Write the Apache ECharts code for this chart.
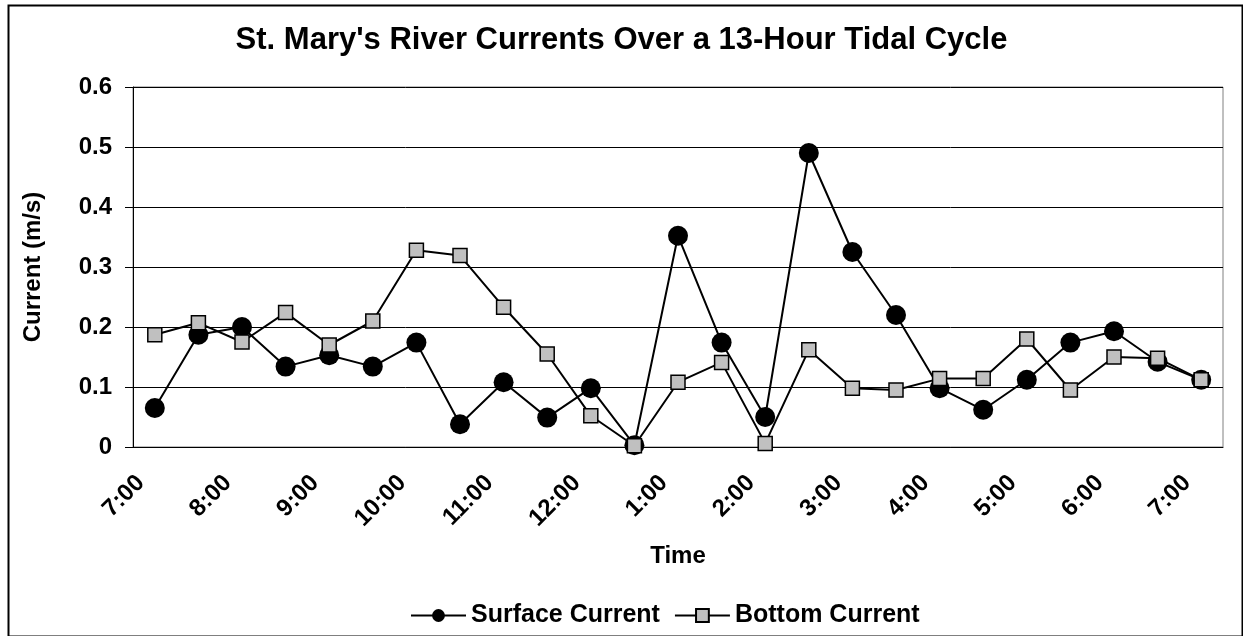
<!DOCTYPE html>
<html>
<head>
<meta charset="utf-8">
<script src="https://cdn.jsdelivr.net/npm/echarts@6/dist/echarts.min.js"></script>
<style>
  html, body { margin: 0; padding: 0; background: #fff; }
  #chart { width: 1243px; height: 636px; }
</style>
</head>
<body>
<div id="chart"></div>
<script>
// half-hour readings, 7:00 to 7:00
var times = ['7:00', '7:30', '8:00', '8:30', '9:00', '9:30', '10:00', '10:30', '11:00', '11:30',
  '12:00', '12:30', '1:00', '1:30', '2:00', '2:30', '3:00', '3:30', '4:00', '4:30',
  '5:00', '5:30', '6:00', '6:30', '7:00'];

var surfaceCurrent = [0.065, 0.187, 0.200, 0.134, 0.153, 0.134, 0.174, 0.038, 0.108, 0.049,
  0.098, 0.003, 0.352, 0.174, 0.050, 0.490, 0.325, 0.220, 0.098, 0.062,
  0.112, 0.174, 0.193, 0.142, 0.112];

var bottomCurrent = [0.187, 0.207, 0.175, 0.224, 0.170, 0.210, 0.328, 0.319, 0.233, 0.155,
  0.052, 0.002, 0.108, 0.141, 0.006, 0.162, 0.098, 0.095, 0.114, 0.114,
  0.180, 0.095, 0.150, 0.148, 0.112];

var FONT = 'Arial, "Liberation Sans", sans-serif';

var chart = echarts.init(document.getElementById('chart'));

var option = {
  animation: false,
  backgroundColor: '#fff',
  title: {
    text: "St. Mary's River Currents Over a 13-Hour Tidal Cycle",
    left: 'center',
    top: 20,
    textStyle: { fontFamily: FONT, fontWeight: 'bold', fontSize: 31, color: '#000' }
  },
  legend: {
    left: 405,
    top: 598,
    itemWidth: 55,
    itemHeight: 16,
    itemGap: 14,
    textStyle: { fontFamily: FONT, fontWeight: 'bold', fontSize: 25, color: '#000' },
    data: ['Surface Current', 'Bottom Current']
  },
  grid: {
    left: 133,
    right: 20,
    top: 87,
    bottom: 189,
    show: true,
    borderColor: '#808080',
    borderWidth: 1,
    containLabel: false
  },
  xAxis: {
    type: 'category',
    data: times,
    boundaryGap: true,
    name: 'Time',
    nameLocation: 'middle',
    nameGap: 97,
    nameTextStyle: { fontFamily: FONT, fontWeight: 'bold', fontSize: 24, color: '#000' },
    axisLine: { lineStyle: { color: '#000', width: 1 } },
    axisTick: { interval: 0, length: 7, lineStyle: { color: '#000' } },
    axisLabel: {
      interval: 1,
      rotate: 45,
      margin: 18,
      padding: [0, 20, 0, 0],
      fontFamily: FONT,
      fontWeight: 'bold',
      fontSize: 24,
      color: '#000'
    },
    splitLine: { show: false }
  },
  yAxis: {
    type: 'value',
    min: 0,
    max: 0.6,
    interval: 0.1,
    name: 'Current (m/s)',
    nameLocation: 'middle',
    nameGap: 88,
    nameTextStyle: { fontFamily: FONT, fontWeight: 'bold', fontSize: 24, color: '#000' },
    axisLine: { show: true, lineStyle: { color: '#000', width: 1 } },
    axisTick: { show: true, length: 8, lineStyle: { color: '#000' } },
    axisLabel: {
      margin: 21,
      fontFamily: FONT,
      fontWeight: 'bold',
      fontSize: 24,
      color: '#000',
      formatter: function (v) { return v === 0 ? '0' : v.toFixed(1); }
    },
    splitLine: { lineStyle: { color: '#000', width: 1 } }
  },
  series: [
    {
      name: 'Surface Current',
      type: 'line',
      data: surfaceCurrent,
      symbol: 'circle',
      symbolSize: 20,
      z: 2,
      lineStyle: { color: '#000', width: 2 },
      itemStyle: { color: '#000', borderColor: '#000', borderWidth: 0 }
    },
    {
      name: 'Bottom Current',
      type: 'line',
      data: bottomCurrent,
      symbol: 'rect',
      symbolSize: 14,
      z: 3,
      lineStyle: { color: '#000', width: 2 },
      itemStyle: { color: '#c0c0c0', borderColor: '#000', borderWidth: 1.5 }
    }
  ],
  graphic: [
    {
      type: 'rect',
      left: 6,
      top: 3,
      shape: { width: 1234, height: 631 },
      style: { fill: 'none', stroke: '#000', lineWidth: 2 },
      silent: true
    }
  ]
};

chart.setOption(option);
</script>
</body>
</html>
